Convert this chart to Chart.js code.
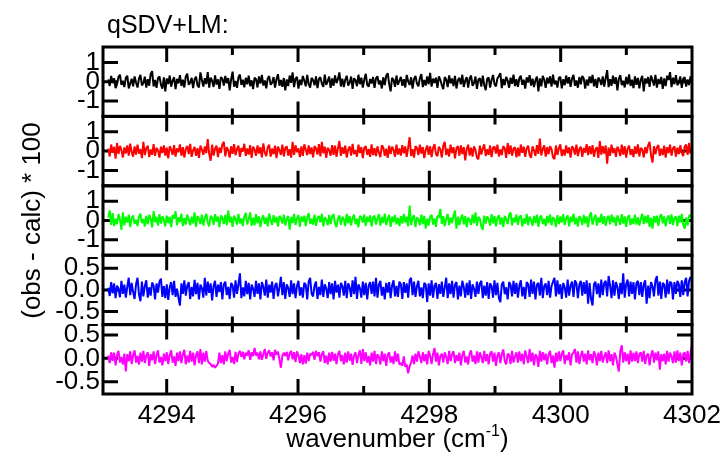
<!DOCTYPE html>
<html>
<head>
<meta charset="utf-8">
<script src="https://cdn.jsdelivr.net/npm/chart.js@4/dist/chart.umd.min.js"></script>
<style>
  html, body { margin: 0; padding: 0; background: #ffffff; }
  canvas { display: block; }
</style>
</head>
<body>
<canvas id="chart" width="722" height="459"></canvas>
<script>
// Fit residuals (obs - calc) * 100 versus wavenumber, one panel per spectrum.
const wnStart = 4293.11;
const wnEnd = 4302.0;

const resBlack = [
  .12,-.22,.30,-.06,.18,-.33,-.13,.25,.36,-.17,.05,-.28,.20,.31,-.35,-.09,.15,-.24,.27,-.04,
  -.30,.16,.35,-.19,-.08,.26,-.31,.13,-.21,.40,.55,-.25,.09,-.32,.19,.28,-.15,-.36,.22,-.50,
  .17,-.12,.32,-.26,.06,.23,-.38,.15,-.09,.34,-.22,.10,-.30,.27,.42,-.16,-.05,.20,-.33,.13,
  .26,-.19,-.29,.48,.09,-.25,.18,-.12,.50,-.31,.21,.05,-.27,.33,-.15,.12,-.37,.24,.16,-.20,
  .30,-.08,.19,-.45,.13,.52,-.26,.04,-.32,.23,.37,-.17,.10,-.29,.20,-.13,.31,-.23,.07,-.38,
  .21,.13,-.30,.27,-.10,.35,-.20,.06,-.34,.17,.29,-.16,-.05,.24,-.31,.14,.39,-.21,.09,-.27,
  .19,-.45,.12,-.23,.32,-.06,.48,-.28,.16,.25,-.36,.10,-.17,.30,.05,-.24,.35,-.13,-.31,.20,
  .09,-.19,.28,-.33,.14,.23,-.10,-.27,.37,-.16,.03,.26,-.32,.17,-.21,.33,-.07,.13,.48,-.25,
  .16,-.28,.10,.31,-.20,-.05,.27,-.37,.18,.07,-.23,.36,-.13,.21,-.30,.11,.41,-.17,-.26,.14,
  -.09,.24,-.32,.17,.28,-.14,.06,-.35,.23,-.18,.31,.44,-.11,-.50,.20,.10,-.27,.32,-.16,.05,
  .25,-.21,.13,-.30,.35,.02,-.17,.23,-.36,.14,.30,-.10,-.24,.18,.39,-.28,.09,-.20,.27,-.13,
  .46,-.25,.16,-.06,.21,-.32,.28,.10,-.18,-.39,.24,.13,-.28,.33,-.09,.17,-.23,.30,-.35,.07,
  .20,-.14,.36,-.27,.05,.24,-.31,.16,.32,-.21,-.07,.27,-.37,.11,.18,-.25,.31,-.17,-.44,.14,
  .22,-.30,.09,.35,-.13,-.24,.17,.28,.44,-.33,.14,-.18,.25,.06,-.31,.21,-.11,.37,-.23,.13,
  -.27,.18,.31,-.16,.10,-.36,.23,-.04,.34,-.20,.16,-.28,.07,.27,-.50,.17,-.24,.30,.11,-.32,
  .21,-.09,.28,-.25,.37,-.14,.05,-.30,.20,.25,-.35,.13,-.18,.32,-.10,.23,-.27,.16,.36,-.21,
  .06,-.31,.24,-.13,.30,.17,-.36,.11,-.20,.27,-.07,.35,-.24,.14,-.32,.21,.09,-.17,.28,-.25,
  .18,.60,-.28,.13,-.21,.31,-.11,.23,-.45,.16,.34,-.18,.05,-.30,.25,-.14,.38,-.22,.10,-.33,
  .27,-.16,.20,-.35,.11,.30,-.50,.17,-.09,.24,-.27,.32,.07,-.20,.36,-.31,.14,-.12,.25,-.37,
  .17,-.23,.31,.09,.50,-.28,.21,-.13,.34,-.18,-.05,.27,-.32,.16,.24,-.25,.12,-.17,.28,-.08
];

const resRed = [
  .13,-.28,.34,-.08,.22,-.39,.42,-.15,.27,.05,-.33,.19,-.12,.30,-.23,.39,-.04,-.29,.24,-.18,
  .33,-.13,.10,-.36,.48,-.21,.15,.28,-.31,.08,-.19,.36,-.25,.17,.03,-.34,.23,-.10,.30,-.24,
  .18,-.38,.25,.09,-.20,.31,-.28,.14,-.06,.35,-.24,.20,-.33,.11,.27,-.16,.38,-.30,.04,.22,
  -.25,.15,-.35,.29,.08,-.19,.24,-.11,.62,-.15,-.50,.33,-.23,.13,.28,-.31,.18,-.09,.34,.48,
  -.27,.20,.06,-.34,.25,-.14,.36,-.21,.10,.29,-.30,.16,-.03,.38,-.25,.14,-.18,.31,-.35,.23,
  .09,-.24,.30,-.13,.21,-.33,.40,-.08,-.26,.19,.33,-.29,.13,-.16,.28,-.36,.23,.05,-.20,.34,
  -.28,.16,.25,-.23,.10,-.34,.48,-.19,.30,-.06,.14,-.31,.24,-.25,.35,.08,-.21,.29,-.15,.19,
  -.33,.26,.13,-.18,.36,-.28,.48,-.11,.23,-.35,.18,.04,-.24,.31,-.20,.28,-.30,.15,.52,-.25,
  .20,-.14,.29,-.33,.09,.24,-.23,.38,-.16,.05,-.29,.33,-.10,.21,-.36,.18,.26,-.20,.11,-.30,
  .35,-.21,.15,-.26,.25,-.08,-.31,.30,.19,-.24,.13,-.35,.28,-.15,.23,.06,-.29,.34,-.18,.14,
  -.23,.31,-.11,.24,-.30,.18,.72,-.25,.10,-.34,.26,.16,-.20,.33,-.13,.21,-.36,.08,.29,-.19,
  .25,-.31,.15,.36,-.16,-.26,.23,.09,-.33,.29,.48,-.21,.13,-.28,.34,-.10,.20,-.38,.16,.26,
  -.24,.30,-.15,.21,-.48,.11,.33,-.23,.18,-.29,.25,.06,-.34,-.42,.28,-.18,.14,.35,-.25,.10,
  -.20,.29,-.31,.16,.24,-.13,.33,-.28,.09,-.21,.26,.15,-.35,.42,-.16,.30,-.24,.13,.20,-.33,
  .18,-.26,.34,-.09,.23,-.30,.14,.28,-.19,-.35,.24,.04,-.25,.31,-.14,.65,-.23,.11,.30,-.28,
  .21,-.16,.25,.10,-.33,-.42,.29,-.20,.15,.35,-.26,.08,-.23,.30,-.11,.19,-.34,.24,.14,-.18,
  .33,-.25,.11,.23,-.30,.16,-.08,.36,-.21,.26,-.15,.31,-.29,.09,.20,-.35,.52,-.19,.25,-.13,
  .29,-.65,.18,-.24,.34,-.10,.15,-.30,.23,.06,-.26,.33,-.18,.25,-.34,.13,.28,-.20,.10,-.31,
  .24,-.14,.35,-.28,.16,.08,-.33,.21,-.11,.30,.48,-.23,-.60,.26,-.16,.19,.31,-.25,.13,-.21,
  .28,-.34,.20,-.10,.33,-.24,.14,.25,-.29,.18,-.15,.30,-.08,-.26,.23,.34,-.19,.42,-.13,.10
];

const resGreen = [
  .15,.52,-.23,.38,-.29,.09,-.19,.33,.06,-.48,.42,-.25,.20,-.11,.30,-.34,.14,.25,-.18,.04,
  -.28,.21,.35,-.14,.08,-.31,.24,-.20,.29,.11,-.35,.48,-.09,.18,-.26,.33,-.16,.23,.03,-.30,
  .25,-.13,.19,-.34,.28,.10,.48,-.24,.16,-.08,.36,-.29,.13,-.21,.31,.05,-.25,.20,-.15,.42,
  -.33,.23,.09,-.19,.30,-.26,.14,.35,-.11,-.30,.24,.16,-.23,.33,-.06,.20,-.35,.26,.13,-.18,
  .29,-.24,.52,-.10,.19,-.33,.25,.08,-.21,.34,-.15,.11,-.29,.23,.39,-.20,.05,.42,-.28,.15,
  -.25,.33,-.14,.21,-.34,.10,.26,-.19,.16,-.30,.36,.03,-.23,.28,-.11,.19,-.31,.24,.14,-.16,
  .30,-.26,.08,.23,-.48,.18,-.13,.34,-.24,.11,.28,-.33,.20,-.06,.25,-.29,.15,.38,-.18,.09,
  -.21,.31,-.28,.14,.24,-.10,.35,-.30,.16,.05,-.25,.29,-.19,.21,.33,-.15,-.34,.11,.26,-.23,
  .19,.06,-.29,.34,-.14,.23,-.25,.13,.30,-.20,.09,-.35,.24,.16,-.11,.31,-.28,.20,-.08,.26,
  -.31,.15,.25,-.21,.10,.33,-.26,.18,-.13,.36,-.24,.08,.29,-.33,.19,-.09,.28,-.20,.14,-.29,
  .23,-.16,.34,-.11,.20,-.30,.78,-.23,.13,.28,-.34,.16,.05,-.25,.31,-.19,.24,-.42,.10,-.26,
  .18,.30,-.21,.11,-.33,.25,.14,.60,-.18,.23,-.29,.08,.34,-.24,.16,-.13,.26,.52,-.42,.20,
  -.25,.10,.31,-.20,.24,-.35,.15,.04,-.23,.30,-.14,.42,-.28,.19,.11,-.31,-.48,.25,-.16,.21,
  .08,-.26,.33,-.15,.23,-.30,.13,.28,-.21,.16,-.34,.24,.06,-.19,.29,.42,-.25,.14,-.10,.31,
  -.23,.18,.26,-.31,.11,-.16,.34,-.24,.20,.03,-.28,.23,-.13,.30,-.33,.15,.25,-.19,.09,-.29,
  .24,-.14,.31,-.25,.16,.08,-.34,.28,-.18,.21,-.11,.33,-.23,.13,.26,-.30,.19,-.08,.35,-.20,
  .15,-.31,.23,.11,-.24,.29,-.15,.20,-.35,.25,.42,-.21,.09,.30,-.26,.16,-.11,.34,-.19,.23,
  -.28,.13,.24,-.20,.31,-.10,.18,-.29,.26,.05,-.23,.33,-.16,.21,-.33,.14,.28,-.24,.10,-.18,
  .30,-.21,.16,-.26,.08,.35,-.19,.24,-.13,.29,-.33,.15,-.42,.23,-.10,.25,-.28,.18,.33,-.15,
  .21,-.30,.11,.26,-.18,.31,-.24,.14,.20,-.29,.25,-.10,.34,-.20,-.42,.16,-.26,.24,.30,.12
];

const resBlue = [
  .05,-.14,.18,-.08,.15,-.19,.10,.03,-.17,.21,-.09,.12,-.18,.07,.28,-.12,.16,-.05,-.21,.13,
  .28,-.10,-.26,.19,-.15,.09,.22,-.18,.06,-.13,.17,.10,-.22,.15,-.06,.19,.26,-.16,.09,-.19,
  .13,-.23,.06,.18,-.12,.21,-.16,.03,-.19,-.36,.15,-.09,.22,-.13,.10,.18,-.21,.07,-.15,.23,
  -.10,.16,-.22,.12,.04,-.18,.28,-.13,.19,-.07,.15,-.24,.09,.21,-.16,.12,-.05,.18,-.22,.13,
  .19,-.12,.07,-.21,.16,.10,-.18,.22,-.09,.13,.38,-.19,.06,-.15,.21,-.10,.16,-.22,.12,.03,
  -.16,.21,-.09,.15,-.22,.18,.07,-.13,.24,-.18,.12,-.06,.19,-.21,.10,.16,-.15,.06,.30,-.12,
  .18,-.21,.13,.04,-.16,.22,-.10,.15,-.19,.09,.21,-.13,.06,-.18,.16,.12,-.22,.19,.28,-.09,
  -.15,.10,.19,-.21,.07,-.12,.24,-.16,.13,.03,-.19,.18,-.10,.15,-.22,.21,-.06,.12,-.18,.16,
  .09,-.13,.21,-.19,.15,.06,-.16,.22,-.10,.30,-.21,.13,.04,-.18,.19,-.12,.16,-.22,.10,.18,
  -.09,.19,-.15,.28,-.18,.12,.21,-.13,.07,-.22,.16,-.06,.18,-.19,.10,.22,-.15,.09,-.16,.19,
  .13,-.21,.18,-.07,.15,-.18,.22,.28,-.12,.19,-.16,.09,.21,-.15,.06,-.19,.16,.12,-.28,.15,
  -.13,.22,-.18,.10,.16,-.21,.13,-.09,.19,-.16,.06,.28,-.19,.15,-.10,.21,-.18,.12,.18,-.22,
  .10,-.15,.21,.07,-.18,.16,-.12,.22,-.21,.13,.03,-.16,.19,-.09,.15,.21,-.19,.10,-.13,.18,
  -.21,.15,.09,-.18,.22,-.12,.16,-.19,-.28,.13,.19,-.10,.06,-.22,.18,.12,-.15,.21,-.09,.16,
  -.18,.10,.22,-.15,.07,-.21,.18,.13,-.16,.24,-.09,.19,-.22,.12,.16,-.13,.28,-.19,.09,.15,
  -.12,.21,-.18,.09,.19,.28,-.15,.22,-.10,.13,-.21,.16,.06,-.18,.24,-.13,.10,.19,-.16,.22,
  .15,-.19,.12,.21,-.13,.18,-.09,.22,-.32,.16,-.21,-.36,.13,.19,-.10,.15,-.18,.24,-.12,.16,
  .21,-.15,.32,.10,-.19,.22,-.13,.18,.07,-.21,.16,-.10,.38,-.18,.13,.24,-.15,.19,-.09,.18,
  -.22,.15,.21,-.12,.18,-.16,.13,.22,-.32,.10,-.19,.18,.09,-.15,.22,.32,-.13,.19,-.21,.16,
  .12,-.18,.24,-.10,.19,.15,-.22,.18,-.09,.21,.13,-.16,.22,-.12,.18,.28,-.15,.21,.30,.18
];

const resMagenta = [
  .06,-.10,.13,-.05,.12,-.15,.07,.16,-.09,.03,-.13,.10,-.28,.09,-.06,.15,-.12,.07,.17,-.09,
  .05,-.13,.12,-.07,.16,-.10,.06,.13,-.16,.09,-.04,.15,-.12,.07,.17,-.09,.03,-.15,.10,-.06,
  .13,-.12,.07,.17,-.09,.04,-.16,.12,-.06,.15,-.10,.09,.18,-.13,.06,-.09,.16,-.07,.12,-.15,
  .07,.15,-.10,.20,-.13,.12,-.07,.16,-.05,-.10,-.12,-.18,-.14,-.20,-.16,-.11,.12,-.10,.07,-.13,
  .15,-.06,.10,.18,-.09,.03,-.12,.14,-.08,.11,.16,.03,.14,-.02,.12,.06,.17,-.03,.13,.05,
  .22,.06,.12,-.02,.15,-.03,.09,.20,-.01,.12,.17,.04,.13,-.04,.18,.08,.14,-.02,-.20,.05,
  .12,.05,.14,-.04,.11,.16,-.02,.13,-.08,.15,.06,-.10,.09,-.13,.07,-.11,.12,-.06,.10,.07,
  .14,-.03,.16,.05,.13,-.07,.09,.15,-.10,.06,-.13,.12,-.07,.14,-.05,.10,-.12,.09,.16,-.06,
  .07,-.13,.12,-.09,.15,-.05,.10,-.14,.06,.13,-.10,.07,.17,-.12,.20,-.06,.13,-.09,.05,-.15,
  .12,-.07,.16,-.12,.09,.03,-.13,.15,-.06,.10,-.16,.07,.13,-.09,.04,-.12,.15,-.07,.10,-.13,
  -.10,-.16,.04,-.18,-.13,-.32,-.17,-.09,.06,-.12,.10,-.07,.15,.04,-.10,.13,-.06,.09,-.13,.16,
  .06,-.12,.09,.22,-.07,.12,-.15,.05,.10,-.09,.13,.03,-.12,.16,-.06,.09,.15,-.10,.07,-.05,
  .12,-.15,.07,.16,-.09,.04,-.13,.10,.17,-.07,.06,-.12,.15,-.09,.13,.03,-.10,.16,-.06,.09,
  -.13,.10,.15,-.07,.12,-.16,.06,.13,-.10,.09,.19,-.06,-.13,.10,.07,-.12,.16,-.09,.04,.13,
  -.09,.15,-.06,.10,-.13,.17,.04,-.10,.20,-.07,.12,-.15,.09,.03,-.18,.16,-.07,.13,-.04,.10,
  -.13,.09,.16,-.10,.06,-.20,.12,-.07,.15,-.06,.10,.17,-.12,.07,-.04,.13,-.15,.09,.12,.20,
  -.09,.15,-.12,.06,.16,-.07,.10,-.13,.17,-.04,.09,-.10,.15,.07,-.15,.12,-.06,.16,-.09,.04,
  .13,-.10,.17,-.06,.09,-.15,.12,.04,-.12,-.28,.16,.28,-.09,.13,-.06,.10,-.13,.17,-.07,.12,
  -.06,.15,-.10,.09,.13,-.07,.16,-.12,.06,.10,-.15,.07,.17,-.09,.12,-.04,.15,-.24,.09,-.06,
  .10,-.13,.16,-.07,.12,.04,-.10,.15,-.09,.17,-.06,.12,-.15,.09,.13,-.07,.16,-.10,.12,.30
];

// Tick values
const xTickLabels = [4294, 4296, 4298, 4300, 4302];
const xMajorTicks = [4294, 4296, 4298, 4300];
const xMinorTicks = [4295, 4297, 4299, 4301];
const yTicksWide = [-1, 0, 1];
const yTicksNarrow = [-0.5, 0, 0.5];

const FONT = "'Liberation Sans', Arial, Helvetica, sans-serif";

// Panels from top to bottom
const panels = [
  { id: 'yA', values: resBlack,   color: '#000000', min: -1.8,  max: 1.8,  ticks: yTicksWide,   digits: 0 },
  { id: 'yB', values: resRed,     color: '#ff0000', min: -1.8,  max: 1.8,  ticks: yTicksWide,   digits: 0 },
  { id: 'yC', values: resGreen,   color: '#00ff00', min: -1.8,  max: 1.8,  ticks: yTicksWide,   digits: 0, title: true },
  { id: 'yD', values: resBlue,    color: '#0000ff', min: -0.8,  max: 0.8,  ticks: yTicksNarrow, digits: 1 },
  { id: 'yE', values: resMagenta, color: '#ff00ff', min: -0.76, max: 0.72, ticks: yTicksNarrow, digits: 1 }
];

function toPoints(values) {
  const step = (wnEnd - wnStart) / (values.length - 1);
  return values.map((v, i) => ({ x: wnStart + i * step, y: v }));
}

const datasets = panels.map(p => ({
  data: toPoints(p.values),
  yAxisID: p.id,
  borderColor: p.color,
  borderWidth: 2,
  borderJoinStyle: 'bevel',
  pointRadius: 0,
  tension: 0,
  fill: false
}));

const scales = {
  x: {
    type: 'linear',
    position: 'bottom',
    min: 4293.03,
    max: 4302,
    afterBuildTicks: s => { s.ticks = xTickLabels.map(v => ({ value: v })); },
    afterFit: s => { s.height = 65; s.paddingLeft = 0; s.paddingRight = 0; },
    grid: { display: false, drawTicks: false },
    border: { display: false },
    ticks: {
      autoSkip: false,
      maxRotation: 0,
      padding: 6,
      color: '#000000',
      font: { family: FONT, size: 26 },
      callback: v => String(v)
    }
  }
};

// stacked axes are laid out bottom-up in declaration order
panels.slice().reverse().forEach(p => {
  scales[p.id] = {
    type: 'linear',
    position: 'left',
    stack: 'residuals',
    stackWeight: 1,
    min: p.min,
    max: p.max,
    afterBuildTicks: s => { s.ticks = p.ticks.map(v => ({ value: v })); },
    afterFit: s => { s.width = 103; },
    grid: { display: false, drawTicks: false },
    border: { display: false },
    ticks: {
      autoSkip: false,
      padding: 3,
      color: '#000000',
      font: { family: FONT, size: 26 },
      callback: v => p.digits ? v.toFixed(p.digits) : String(v)
    },
    title: {
      display: !!p.title,
      text: '(obs - calc) * 100',
      color: '#000000',
      font: { family: FONT, size: 26 },
      padding: { top: 17, bottom: 0 }
    }
  };
});

// Inward tick marks, panel frames and the header / x-axis captions
const framePlugin = {
  id: 'panelFrames',
  beforeDatasetsDraw(chart) {
    const { ctx, chartArea: a, scales: sc } = chart;
    const xs = sc.x;
    ctx.save();
    ctx.strokeStyle = '#000000';
    ctx.lineWidth = 3;
    ctx.lineCap = 'butt';
    ctx.beginPath();
    panels.forEach(p => {
      const s = sc[p.id];
      const mark = (vals, len) => vals.forEach(v => {
        const px = xs.getPixelForValue(v);
        ctx.moveTo(px, s.top); ctx.lineTo(px, s.top + len);
        ctx.moveTo(px, s.bottom); ctx.lineTo(px, s.bottom - len);
      });
      mark(xMajorTicks, 15);
      mark(xMinorTicks, 8);
      p.ticks.forEach(v => {
        const py = s.getPixelForValue(v);
        ctx.moveTo(a.left, py); ctx.lineTo(a.left + 15, py);
        ctx.moveTo(a.right, py); ctx.lineTo(a.right - 15, py);
      });
    });
    ctx.stroke();
    ctx.restore();
  },
  afterDatasetsDraw(chart) {
    const { ctx, chartArea: a, scales: sc } = chart;
    ctx.save();
    ctx.strokeStyle = '#000000';
    ctx.lineWidth = 3;
    panels.forEach(p => {
      const s = sc[p.id];
      ctx.strokeRect(a.left, s.top, a.right - a.left, s.bottom - s.top);
    });
    ctx.restore();
  },
  afterDraw(chart) {
    const { ctx, chartArea: a } = chart;
    ctx.save();
    ctx.fillStyle = '#000000';
    ctx.textBaseline = 'alphabetic';
    ctx.textAlign = 'left';
    ctx.font = `25px ${FONT}`;
    ctx.fillText('qSDV+LM:', a.left + 4, 33);

    // x-axis caption with superscript exponent
    const main = 'wavenumber (cm';
    const sup = '-1';
    const close = ')';
    ctx.font = `26px ${FONT}`;
    const wMain = ctx.measureText(main).width;
    const wClose = ctx.measureText(close).width;
    ctx.font = `16px ${FONT}`;
    const wSup = ctx.measureText(sup).width;
    const total = wMain + wSup + wClose;
    const x0 = (a.left + a.right) / 2 - total / 2;
    const base = 447;
    ctx.font = `26px ${FONT}`;
    ctx.fillText(main, x0, base);
    ctx.font = `16px ${FONT}`;
    ctx.fillText(sup, x0 + wMain, base - 11);
    ctx.font = `26px ${FONT}`;
    ctx.fillText(close, x0 + wMain + wSup, base);
    ctx.restore();
  }
};

new Chart(document.getElementById('chart'), {
  type: 'line',
  data: { datasets },
  options: {
    responsive: false,
    animation: false,
    devicePixelRatio: 1,
    layout: { padding: { top: 47, right: 30, bottom: 0, left: 0 } },
    plugins: { legend: { display: false }, tooltip: { enabled: false }, title: { display: false } },
    scales
  },
  plugins: [framePlugin]
});
</script>
</body>
</html>
